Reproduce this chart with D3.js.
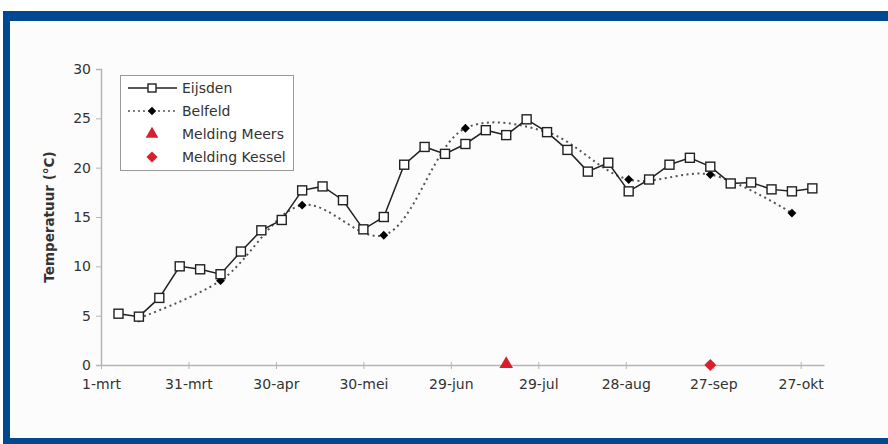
<!DOCTYPE html>
<html><head><meta charset="utf-8">
<script src="https://cdn.jsdelivr.net/npm/d3@7"></script>
<style>
html,body{margin:0;padding:0;background:#fff;}
text{font-family:"DejaVu Sans",Verdana,sans-serif;fill:#333;}
</style></head>
<body><svg id="c" width="888" height="444"></svg>
<script>
const eijsdenDates = ["2006-03-07","2006-03-14","2006-03-21","2006-03-28","2006-04-04","2006-04-11","2006-04-18","2006-04-25","2006-05-02","2006-05-09","2006-05-16","2006-05-23","2006-05-30","2006-06-06","2006-06-13","2006-06-20","2006-06-27","2006-07-04","2006-07-11","2006-07-18","2006-07-25","2006-08-01","2006-08-08","2006-08-15","2006-08-22","2006-08-29","2006-09-05","2006-09-12","2006-09-19","2006-09-26","2006-10-03","2006-10-10","2006-10-17","2006-10-24","2006-10-31"];
const eijsdenValues = [5.2,4.9,6.8,10.0,9.7,9.2,11.5,13.65,14.7,17.7,18.1,16.7,13.75,15.0,20.3,22.1,21.4,22.4,23.8,23.3,24.9,23.6,21.8,19.6,20.5,17.6,18.8,20.3,21.0,20.1,18.4,18.5,17.8,17.6,17.9];
const belfeldDates = ["2006-03-14","2006-04-11","2006-05-09","2006-06-06","2006-07-04","2006-08-01","2006-08-29","2006-09-26","2006-10-24"];
const belfeldValues = [4.75,8.55,16.2,13.15,24.0,23.6,18.8,19.3,15.4];
const meersDates = ["2006-07-18"];
const meersValues = [0];
const kesselDates = ["2006-09-26"];
const kesselValues = [0];
const xTickDates = ["2006-03-01","2006-03-31","2006-04-30","2006-05-30","2006-06-29","2006-07-29","2006-08-28","2006-09-27","2006-10-27"];
const xTickLabels = ["1-mrt","31-mrt","30-apr","30-mei","29-jun","29-jul","28-aug","27-sep","27-okt"];
const yTicks = [0,5,10,15,20,25,30];
const legendLabels = ["Eijsden","Belfeld","Melding Meers","Melding Kessel"];

const parse = d3.utcParse("%Y-%m-%d");
const svg = d3.select("#c");

// frame
svg.append("rect").attr("x",0).attr("y",0).attr("width",888).attr("height",444).attr("fill","#fff");
svg.append("rect").attr("x",3).attr("y",11).attr("width",885).attr("height",433).attr("fill","#004892");
svg.append("rect").attr("x",10).attr("y",21).attr("width",878).attr("height",417).attr("fill","#fcfcfc");

const x = d3.scaleUtc().domain([parse("2006-03-01"), parse("2006-11-04")]).range([101, 824]);
const y = d3.scaleLinear().domain([0,30]).range([365,69]);

// axes
const yAxis = svg.append("g").attr("transform","translate(101,0)")
  .call(d3.axisLeft(y).tickValues(yTicks).tickSize(5).tickPadding(5));
yAxis.select(".domain").attr("stroke","#b5b5b5").attr("stroke-width",1.5);
yAxis.selectAll(".tick line").attr("stroke","#b5b5b5");
yAxis.selectAll(".tick text").attr("font-size",14).attr("fill","#333").style("font-family","DejaVu Sans");

const xAxis = svg.append("g").attr("transform","translate(0,365)")
  .call(d3.axisBottom(x).tickValues(xTickDates.map(parse)).tickFormat((d,i)=>xTickLabels[i]).tickSize(4).tickSizeOuter(0).tickPadding(10));
xAxis.select(".domain").attr("stroke","#b5b5b5").attr("stroke-width",1.5);
xAxis.selectAll(".tick line").attr("stroke","#b5b5b5").attr("y1",-3);
xAxis.selectAll(".tick text").attr("font-size",14).attr("fill","#333").style("font-family","DejaVu Sans");

svg.append("text").attr("transform","translate(54,217) rotate(-90)").attr("text-anchor","middle")
  .attr("font-size",13.5).attr("font-weight","bold").attr("fill","#222").text("Temperatuur (°C)");

const diamondSym = d3.symbolDiamond2 || d3.symbolSquare;

// Belfeld dotted smooth line
const belData = belfeldDates.map((d,i)=>({x:parse(d),v:belfeldValues[i]}));
svg.append("path").datum(belData)
  .attr("d", d3.line().x(d=>x(d.x)).y(d=>y(d.v)).curve(d3.curveCatmullRom.alpha(0.5)))
  .attr("fill","none").attr("stroke","#555").attr("stroke-width",2).attr("stroke-dasharray","2,3.5");

// Eijsden line
const eijData = eijsdenDates.map((d,i)=>({x:parse(d),v:eijsdenValues[i]}));
svg.append("path").datum(eijData)
  .attr("d", d3.line().x(d=>x(d.x)).y(d=>y(d.v)))
  .attr("fill","none").attr("stroke","#222").attr("stroke-width",1.5);

// Belfeld markers
svg.append("g").selectAll("path").data(belData).join("path")
  .attr("transform",d=>`translate(${x(d.x)},${y(d.v)})`)
  .attr("d", d3.symbol().type(diamondSym).size(50)).attr("fill","#000");

// Eijsden squares
svg.append("g").selectAll("rect").data(eijData).join("rect")
  .attr("x",d=>x(d.x)-4.5).attr("y",d=>y(d.v)-4.5).attr("width",9).attr("height",9)
  .attr("fill","#fff").attr("stroke","#222").attr("stroke-width",1.4);

// Meldingen
const red = "#d8202c";
svg.append("g").selectAll("path").data(meersDates.map((d,i)=>({x:parse(d),v:meersValues[i]}))).join("path")
  .attr("transform",d=>`translate(${x(d.x)},${y(d.v)-1})`)
  .attr("d", d3.symbol().type(d3.symbolTriangle).size(80)).attr("fill",red);
svg.append("g").selectAll("path").data(kesselDates.map((d,i)=>({x:parse(d),v:kesselValues[i]}))).join("path")
  .attr("transform",d=>`translate(${x(d.x)},${y(d.v)})`)
  .attr("d", d3.symbol().type(diamondSym).size(90)).attr("fill",red);

// legend
const lg = svg.append("g");
lg.append("rect").attr("x",120.5).attr("y",75.5).attr("width",173).attr("height",95)
  .attr("fill","#fff").attr("stroke","#999").attr("stroke-width",1);
const ly = [88,111,134,157];
lg.append("line").attr("x1",128).attr("x2",177).attr("y1",ly[0]).attr("y2",ly[0]).attr("stroke","#222").attr("stroke-width",1.5);
lg.append("rect").attr("x",148).attr("y",ly[0]-4).attr("width",8).attr("height",8).attr("fill","#fff").attr("stroke","#222").attr("stroke-width",1.4);
lg.append("line").attr("x1",128).attr("x2",177).attr("y1",ly[1]).attr("y2",ly[1]).attr("stroke","#555").attr("stroke-width",1.5).attr("stroke-dasharray","2,3");
lg.append("path").attr("transform",`translate(152,${ly[1]})`).attr("d",d3.symbol().type(diamondSym).size(45)).attr("fill","#000");
lg.append("path").attr("transform",`translate(152,${ly[2]})`).attr("d",d3.symbol().type(d3.symbolTriangle).size(70)).attr("fill",red);
lg.append("path").attr("transform",`translate(152,${ly[3]})`).attr("d",d3.symbol().type(diamondSym).size(80)).attr("fill",red);
lg.selectAll("text.l").data(legendLabels).join("text").attr("class","l")
  .attr("x",182).attr("y",(d,i)=>ly[i]).attr("dy","0.35em").attr("font-size",14).attr("fill","#333").text(d=>d);
</script></body></html>
